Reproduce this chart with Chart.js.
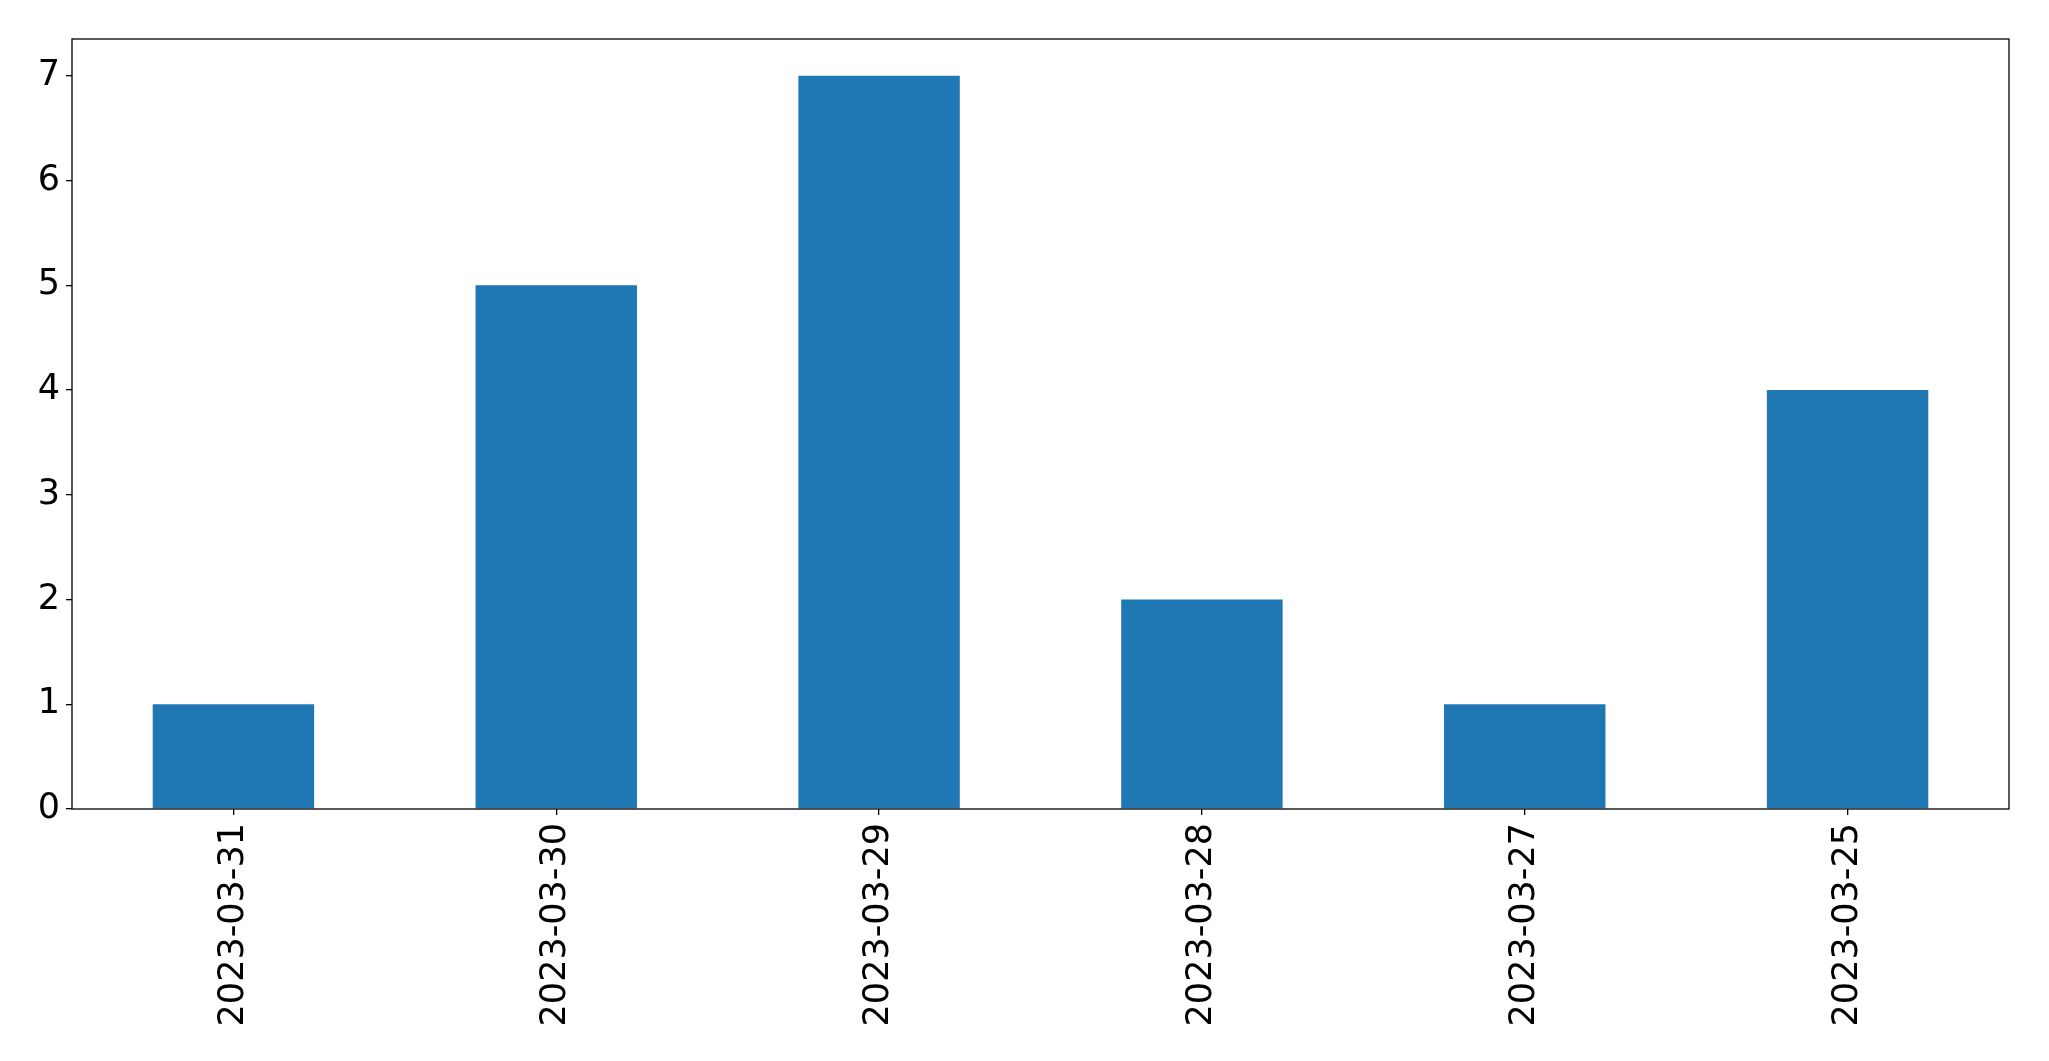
<!DOCTYPE html>
<html lang="en">

<head>
    <meta charset="utf-8">
    <style>
        html, body { margin: 0; padding: 0; background: #fff; }
    </style>
</head>

<body>
    <canvas id="countChart" width="2049" height="1061"></canvas>
    <script src="https://cdn.jsdelivr.net/npm/chart.js"></script>
    <script>
        const dates = ['2023-03-31', '2023-03-30', '2023-03-29', '2023-03-28', '2023-03-27', '2023-03-25'];
        const counts = [1, 5, 7, 2, 1, 4];
        const yTicks = [0, 1, 2, 3, 4, 5, 6, 7];

        // matplotlib style full box around the plot area
        const frame = {
            id: 'frame',
            afterDatasetsDraw(chart) {
                const a = chart.chartArea;
                const ctx = chart.ctx;
                ctx.save();
                ctx.strokeStyle = '#000';
                ctx.lineWidth = 1.3;
                ctx.strokeRect(a.left, a.top, a.right - a.left, a.bottom - a.top);
                ctx.restore();
            }
        };

        const font = { family: 'DejaVu Sans', size: 35 };

        new Chart(document.getElementById('countChart'), {
            type: 'bar',
            data: {
                labels: dates,
                datasets: [{
                    data: counts,
                    backgroundColor: '#1f77b4',
                    borderWidth: 0,
                    inflateAmount: 0,
                    barPercentage: 0.5,
                    categoryPercentage: 1
                }]
            },
            options: {
                responsive: false,
                animation: false,
                layout: { padding: { top: 39, right: 40, left: 0, bottom: 0 } },
                plugins: { legend: { display: false }, tooltip: { enabled: false } },
                scales: {
                    x: {
                        grid: { offset: false, drawOnChartArea: false, tickLength: 6, color: '#000', lineWidth: 1.3 },
                        border: { display: false },
                        ticks: { color: '#000', font: font, maxRotation: 90, minRotation: 90, padding: 8 },
                        afterFit: s => { s.height = 1061 - 39 - 770; }
                    },
                    y: {
                        min: 0,
                        max: 7.35,
                        grid: { drawOnChartArea: false, tickLength: 6, color: '#000', lineWidth: 1.3 },
                        border: { display: false },
                        afterBuildTicks: s => { s.ticks = yTicks.map(v => ({ value: v })); },
                        ticks: { color: '#000', font: font, padding: 6 },
                        afterFit: s => { s.width = 72; }
                    }
                }
            },
            plugins: [frame]
        });
    </script>
</body>

</html>
